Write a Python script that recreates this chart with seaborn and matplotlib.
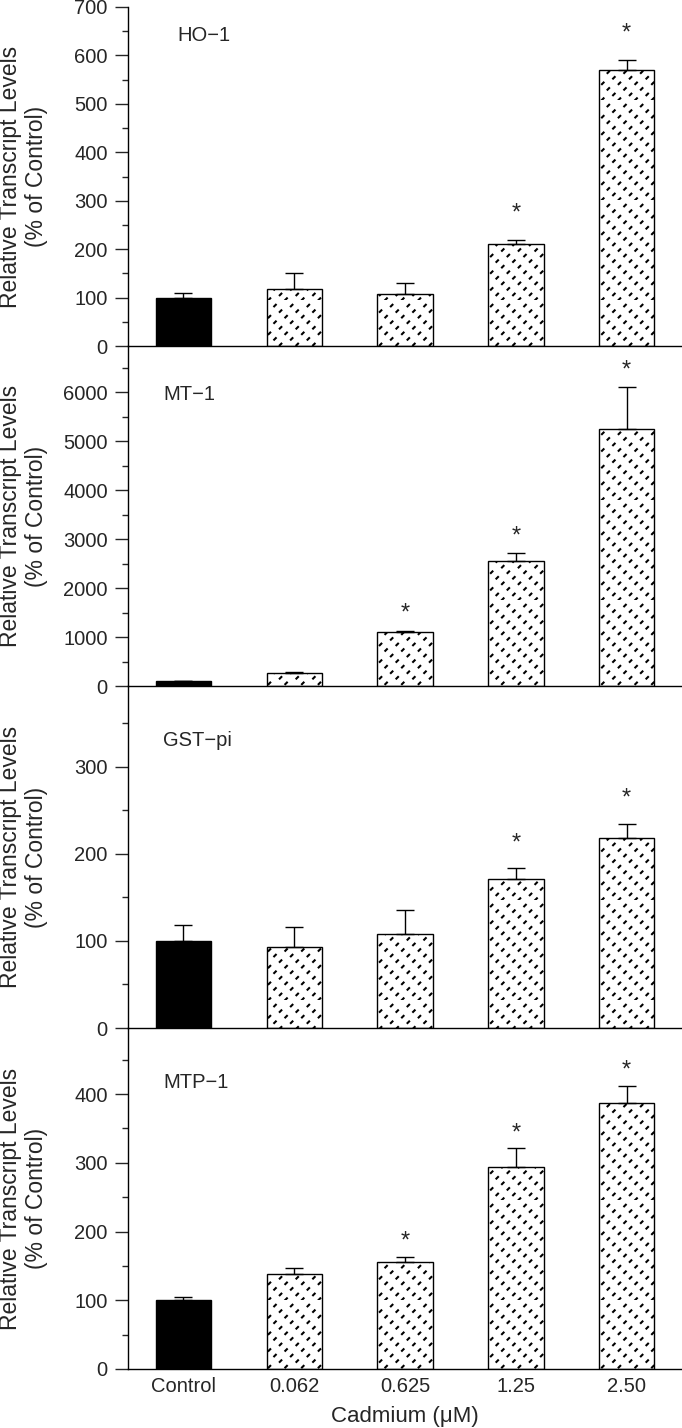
import numpy as np
import pandas as pd
import matplotlib
matplotlib.use("Agg")
import matplotlib.pyplot as plt
import matplotlib.hatch as mhatch
from matplotlib.path import Path
from matplotlib.ticker import MultipleLocator, AutoMinorLocator
import seaborn as sns

# ---------------- data ----------------
doses = ["Control", "0.062", "0.625", "1.25", "2.50"]
genes = ["HO\u22121", "MT\u22121", "GST\u2212pi", "MTP\u22121"]

ho1_mean = [100, 118, 108, 211, 569]
ho1_err = [10, 32, 23, 8, 22]
ho1_sig = [False, False, False, True, True]

mt1_mean = [100, 265, 1096, 2550, 5245]
mt1_err = [10, 27, 33, 170, 857]
mt1_sig = [False, False, True, True, True]

gst_mean = [100, 93.5, 108.5, 171.5, 218.5]
gst_err = [18, 22, 27.5, 12, 16]
gst_sig = [False, False, False, True, True]

mtp1_mean = [100, 138, 155, 294, 387]
mtp1_err = [4.5, 9, 8, 27, 25]
mtp1_sig = [False, False, True, True, True]

y_limits = [700, 6940, 393, 496]
y_major = [100, 1000, 100, 100]

means = [ho1_mean, mt1_mean, gst_mean, mtp1_mean]
errs = [ho1_err, mt1_err, gst_err, mtp1_err]
sigs = [ho1_sig, mt1_sig, gst_sig, mtp1_sig]


# ------------- custom hatch: '/'-dots lined up on '\' diagonals -------------
class DottedDiagonalHatch(mhatch.HatchPatternBase):
    n_lines = 6
    n_steps = 18

    def __init__(self, hatch, density):
        self.active = "*" in hatch
        self.num_vertices = self.n_lines * self.n_steps * 2 if self.active else 0

    def set_vertices_and_codes(self, vertices, codes):
        e = 0.008
        half = 0.5 / self.n_steps
        pts = []
        for k in range(self.n_lines):
            for i in range(self.n_steps):
                x = i / self.n_steps + half
                y = (k / self.n_lines - i / self.n_steps) % 1.0
                y = min(max(y, e + 0.001), 1 - e - 0.001)
                pts.append((x - e, y - e))
                pts.append((x + e, y + e))
        vertices[:] = np.array(pts)
        codes[0::2] = Path.MOVETO
        codes[1::2] = Path.LINETO


mhatch._hatch_types = [t for t in mhatch._hatch_types if t is not mhatch.Stars] + [DottedDiagonalHatch]

# ---------------- style ----------------
sns.set_style("ticks")
plt.rcParams["font.family"] = ["Liberation Sans", "DejaVu Sans"]
plt.rcParams["hatch.linewidth"] = 1.5
plt.rcParams["axes.linewidth"] = 1.0
plt.rcParams["axes.edgecolor"] = "black"

W, H = 682, 1428
fig = plt.figure(figsize=(W / 100, H / 100), dpi=100)

bounds_px = [7, 346, 686, 1028, 1369]
left_px = 128
label_x = [-0.058, -0.184, -0.184, -0.184]
label_y = [642, 5940, 330, 416]
star_off = [19, 12, 18, 11]

axes = []
for p in range(4):
    top, bot = bounds_px[p], bounds_px[p + 1]
    ax = fig.add_axes([left_px / W, 1 - bot / H, 1 - left_px / W, (bot - top) / H])
    ax.patch.set_facecolor("none")
    axes.append(ax)
    df = pd.DataFrame({"dose": doses, "value": means[p]})
    pal = {d: ("black" if d == "Control" else "white") for d in doses}
    sns.barplot(data=df, x="dose", y="value", hue="dose", palette=pal, order=doses,
                hue_order=doses, legend=False, errorbar=None, width=0.5,
                edgecolor="black", linewidth=1.0, saturation=1, ax=ax)
    for i, patch in enumerate(ax.patches):
        if i > 0:
            patch.set_hatch("*")
    xs = np.arange(len(doses))
    ax.errorbar(xs, means[p], yerr=[np.zeros(len(doses)), errs[p]], fmt="none",
                ecolor="black", elinewidth=1.0, capsize=6.5, capthick=1.0, zorder=5)
    for i in range(len(doses)):
        if sigs[p][i]:
            ax.annotate("*", xy=(i, means[p][i] + errs[p][i]), xytext=(0, star_off[p]),
                        textcoords="offset points", ha="center", va="center", fontsize=17)
    ax.text(label_x[p], label_y[p], genes[p], fontsize=14.5, ha="left", va="center")

    ax.set_xlim(-0.5, 4.5)
    ax.set_ylim(0, y_limits[p])
    ax.yaxis.set_major_locator(MultipleLocator(y_major[p]))
    ax.yaxis.set_minor_locator(AutoMinorLocator(2))
    ax.tick_params(axis="y", which="major", direction="out", length=9.5, width=1.0,
                   labelsize=14.5, pad=5)
    ax.tick_params(axis="y", which="minor", direction="out", length=4.5, width=1.0)
    ax.tick_params(axis="x", length=0, labelsize=14.5, pad=6)
    sns.despine(ax=ax, top=True, right=True)
    ax.set_ylabel("Relative Transcript Levels\n(% of Control)", fontsize=16.5)
    ax.yaxis.set_label_coords(-0.144, 0.5)
    if p < 3:
        ax.set_xticklabels([])
        ax.set_xlabel("")
    else:
        ax.set_xlabel("Cadmium (\u03bcM)", fontsize=16, labelpad=7)

fig.savefig("out.png", dpi=100)
